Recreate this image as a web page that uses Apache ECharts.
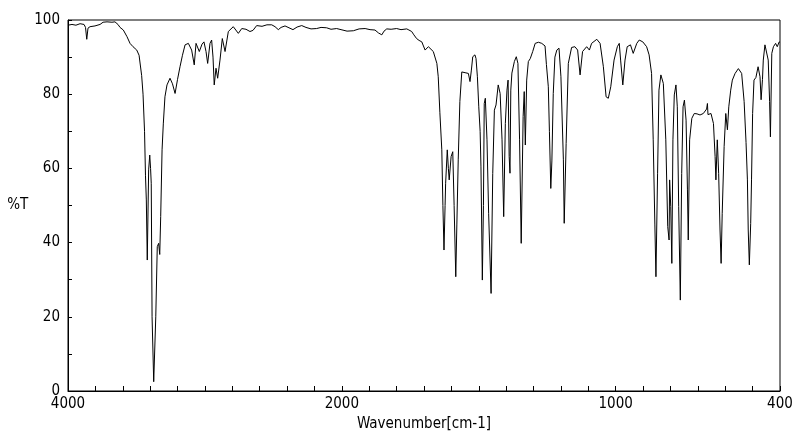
<!DOCTYPE html>
<html>
<head>
<meta charset="utf-8">
<script src="https://cdn.jsdelivr.net/npm/echarts@6/dist/echarts.min.js"></script>
<style>
html,body{margin:0;padding:0;background:#fff;}
#myChart{width:800px;height:441px;}
</style>
</head>
<body>
<div id="myChart"></div>
<script>
/*IR 数据*/
var wavenumber = [4000,3971,3942,3912,3883,3872,3863,3854,3839,3803,3766,3744,3715,3679,3657,3635,3620,3596,3569,3547,3525,3498,3481,3462,3452,3441,3434,3428,3421,3411,3403,3397,3392,3386,3374,3359,3348,3338,3330,3323,3313,3304,3292,3277,3255,3237,3218,3200,3182,3164,3145,3121,3097,3078,3065,3041,3021,3007,2992,2980,2963,2951,2941,2932,2919,2907,2890,2873,2853,2829,2793,2756,2731,2700,2671,2649,2622,2583,2547,2512,2488,2464,2444,2415,2386,2357,2327,2293,2262,2225,2184,2152,2111,2079,2038,2006,
  1981,1958,1937,1915,1897,1879,1866,1854,1846,1836,1820,1800,1784,1763,1755,1745,1737,1727,1718,1708,1702,1696,1684,1678,1666,1660,1653,1648,1642,1635,1631,1627,1623,1621,1615,1611,1608,1601,1595,1590,1584,1580,1575,1569,1562,1556,1550,1543,1538,1532,1527,1522,1514,1510,1505,1500,1495,1492,1487,1483,1480,1476,1470,1464,1455,1449,1443,1437,1429,1422,1415,1409,1403,1397,1393,1389,1386,1383,1379,1370,1363,1357,1351,1345,1338,1334,1330,1325,1319,1312,1303,1294,1282,1270,1258,1253,1246,1242,1237,1233,1228,1222,1215,1207,1200,1191,1188,1181,1173,1161,1149,1139,1130,1121,1106,1096,1088,1069,1057,1045,1035,1027,1018,1006,
  994,987,982,974,966,958,946,936,923,914,901,887,878,869,863,857,853,847,842,835,826,817,810,805,803,799,795,791,786,780,775,770,764,759,754,749,743,738,735,730,722,713,703,692,680,674,668,665,663,659,652,643,637,634,629,624,619,615,611,604,598,592,587,580,574,564,552,540,531,524,519,516,512,507,504,500,495,488,480,473,469,464,461,455,449,443,438,435,430,424,416,410,403,400];
var transmittance = [98.6,98.8,98.6,99.0,98.8,98.0,94.8,97.8,98.2,98.4,98.8,99.4,99.5,99.4,99.5,98.8,98.0,97.3,95.5,93.7,92.8,91.9,90.5,85.0,80,70,58,51.5,35.3,59.6,63.6,60,56,20,2.5,20,38.9,39.8,36.8,47,65,72,79.3,82.5,84.3,82.8,80.2,84,87.4,90.5,93.3,93.7,91.9,87.9,93.7,91.5,93.5,94.1,91.5,88.3,93.7,94.6,90,82.5,87,84.3,89.2,95,91.5,96.9,98.2,96.4,97.7,97.5,96.9,97.2,98.5,98.3,98.7,98.7,98.2,97.4,98.0,98.4,97.9,97.4,98.1,98.5,98.0,97.6,97.7,98.0,97.9,97.5,97.7,97.4,
  97.0,97.1,97.6,97.7,97.4,97.3,96.5,96.0,97.0,97.6,97.5,97.7,97.4,97.6,97.3,96.9,96.0,95.0,94.5,94.1,93,91.9,92.8,93,91.5,91.0,88.3,84.7,75,65,50,38,50,56,65,60,56.9,63.2,64.5,50,30.8,45,62.3,78,86,86.5,85.8,86.3,85.6,83.4,86.5,90.1,90.6,89.6,84.7,76.6,70,60.4,29.9,50,77.5,78.9,67.7,47.9,26.3,58.6,75.7,77.1,82.5,80.2,67.7,47.0,72.1,81.1,83.8,63.2,58.7,81.1,85.7,88.8,90.1,88.3,67.7,39.8,74,80.7,66.3,83.8,88.8,89.6,91.5,93.7,94.0,93.7,93.0,88,82,70,54.6,62,80.2,90,91.9,92.4,84.7,62.3,45.2,66.7,88.3,92.6,92.8,91.9,85.2,91.5,92.8,91.9,93.7,94.8,93.7,87.4,79.3,78.9,82,89.2,
  92.8,93.7,89.2,82.5,89.2,92.8,93.3,91,93.7,94.6,94.1,92.8,90.6,85.6,67.7,45,30.8,58.7,81.1,85.2,82.9,67.7,44.3,40.7,56.9,49.7,34.4,67.7,79.8,82.5,76.6,49.7,24.5,58.6,76.6,78.4,73,54.2,40.7,67.7,73.5,74.8,74.7,74.4,74.8,74.8,76,77.5,74.5,74,74.8,72.1,63.2,56.9,67.7,58.6,43.4,34.4,47.9,65.9,74.8,70.4,76.6,81.1,83.8,85.6,86.9,85.6,78,67,56.9,43.4,34,45.2,56.9,74.8,83.8,84.5,87.4,84.7,78.5,84,89.2,93.3,93.7,89.2,78,68.5,91,92.8,93.7,92.8,94.1,94];
var xTickLabels = [4000,2000,1000,400];
var yTickLabels = [0,20,40,60,80,100];

/*2000以上压缩一半*/
function toX(w){
    if(w>=2000){ return (4000-w)/2; }
    return 1000+(2000-w);
}
function toW(x){
    if(x<=1000){ return 4000-2*x; }
    return 3000-x;
}

var myChart = echarts.init(document.getElementById('myChart'));
var font = "'DejaVu Sans Condensed',sans-serif";

var data = [];
for(var i=0;i<wavenumber.length;i++){
    data.push([toX(wavenumber[i]),transmittance[i]]);
}

myChart.setOption({
    animation:false,
    grid:{left:68,right:20,top:20,bottom:50,show:true,borderColor:'#000',borderWidth:1,backgroundColor:'#fff'},
    xAxis:{
        type:'value',min:0,max:2600,interval:100,
        name:'Wavenumber[cm-1]',nameLocation:'middle',nameGap:25,
        nameTextStyle:{color:'#000',fontSize:15,fontFamily:font},
        axisLine:{lineStyle:{color:'#000',width:1}},
        axisTick:{inside:true,length:5,lineStyle:{color:'#000'}},
        splitLine:{show:false},
        axisLabel:{
            color:'#000',fontSize:15,fontFamily:font,margin:6,showMaxLabel:true,
            formatter:function(v){
                var w = Math.round(toW(v));
                return xTickLabels.indexOf(w)>=0 ? String(w) : '';
            }
        }
    },
    yAxis:{
        type:'value',min:0,max:100,interval:10,
        name:'%T',nameLocation:'middle',nameGap:38,nameRotate:0,
        nameTextStyle:{color:'#000',fontSize:15,fontFamily:font},
        axisLine:{show:true,lineStyle:{color:'#000',width:1}},
        axisTick:{inside:true,length:4,lineStyle:{color:'#000'}},
        splitLine:{show:false},
        axisLabel:{
            color:'#000',fontSize:15,fontFamily:font,margin:8,
            formatter:function(v){
                return yTickLabels.indexOf(v)>=0 ? String(v) : '';
            }
        }
    },
    series:[{
        type:'line',
        data:data,
        showSymbol:false,
        silent:true,
        lineStyle:{color:'#000',width:1}
    }]
});
</script>
</body>
</html>
